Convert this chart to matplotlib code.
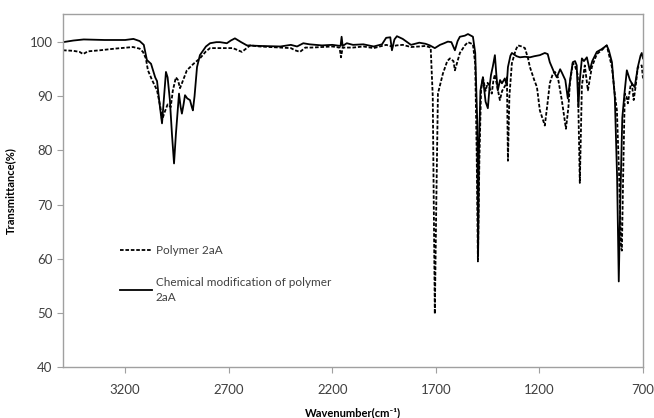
import numpy as np
import matplotlib
matplotlib.use("Agg")
from matplotlib import pyplot as plt

plt.rcParams['font.family'] = ['Lato', 'DejaVu Sans']

# Chemical modification of polymer 2aA (solid)
wn_mod = [3500, 3450, 3400, 3300, 3200, 3160, 3130, 3110, 3095, 3075, 3055, 3046, 3035, 3022, 3012,
          3003, 2995, 2984, 2974, 2964, 2955, 2940, 2932, 2926, 2918, 2911, 2900, 2887, 2878, 2873,
          2865, 2853, 2839, 2810, 2790, 2760, 2742, 2709, 2690, 2670, 2640, 2612, 2550, 2450, 2400,
          2370, 2340, 2310, 2250, 2200, 2160, 2155, 2150, 2130, 2100, 2050, 2000, 1960, 1940, 1920,
          1912, 1900, 1888, 1860, 1820, 1780, 1750, 1729, 1705, 1680, 1660, 1642, 1625, 1608, 1595,
          1584, 1560, 1545, 1530, 1521, 1510, 1500, 1496, 1492, 1485, 1473, 1460, 1449, 1440, 1434,
          1425, 1415, 1408, 1401, 1390, 1381, 1367, 1358, 1352, 1340, 1333, 1310, 1294, 1270, 1246,
          1225, 1198, 1174, 1160, 1150, 1130, 1116, 1100, 1092, 1075, 1063, 1050, 1039, 1028, 1020,
          1012, 1005, 995, 985, 971, 957, 945, 923, 900, 875, 865, 850, 836, 825, 817,
          810, 800, 788, 778, 763, 754, 740, 725, 712, 706, 700]
t_mod = [100.0, 100.3, 100.5, 100.4, 100.4, 100.6, 100.2, 99.5, 96.7, 96.0, 93.5, 92.8, 89.0, 85.0, 90.0,
         94.5, 93.5, 89.3, 83.0, 77.6, 83.0, 90.5, 88.0, 86.8, 88.5, 90.2, 89.6, 89.3, 88.0, 87.4,
         90.0, 95.4, 97.6, 99.2, 99.8, 100.0, 100.0, 99.8, 100.3, 100.7, 100.0, 99.4, 99.3, 99.2, 99.5,
         99.2, 99.8, 99.6, 99.4, 99.5, 99.3, 101.0, 99.3, 99.8, 99.5, 99.6, 99.2, 99.6, 100.8, 100.9,
         98.5, 100.5, 101.1, 100.6, 99.5, 99.9, 99.7, 99.4, 98.9, 99.5, 99.8, 100.1, 100.0, 98.5, 100.2,
         101.0, 101.2, 101.5, 101.2, 101.0, 98.0, 85.0, 60.5, 80.0, 91.0, 93.5, 89.0, 87.8, 92.0, 93.9,
         95.5, 97.6, 94.0, 91.1, 93.0, 92.4, 93.3, 92.0, 95.4, 97.5, 98.0, 97.4, 97.2, 97.3, 97.2,
         97.4, 97.6, 98.0, 97.8, 96.3, 94.5, 93.5, 95.0, 94.4, 93.0, 89.6, 93.5, 96.3, 96.5, 95.7,
         88.0, 93.0, 97.0, 96.5, 97.2, 94.8, 96.5, 98.2, 98.7, 99.4, 98.5, 96.3, 89.8, 75.0, 55.8,
         70.0, 86.0, 91.1, 94.8, 93.0, 92.4, 91.7, 95.4, 97.5, 98.0, 97.0]

# Polymer 2aA (dashed)
wn_poly = [3500, 3450, 3420, 3403, 3380, 3321, 3250, 3162, 3130, 3114, 3100, 3090, 3070, 3046, 3030,
           3022, 3010, 2995, 2980, 2970, 2955, 2945, 2935, 2920, 2902, 2870, 2839, 2810, 2790, 2740,
           2680, 2636, 2597, 2550, 2450, 2400, 2380, 2356, 2330, 2300, 2250, 2200, 2165, 2158, 2150,
           2100, 2050, 2000, 1960, 1940, 1912, 1890, 1860, 1820, 1780, 1750, 1725, 1715, 1705, 1698,
           1690, 1666, 1645, 1632, 1615, 1608, 1595, 1584, 1560, 1545, 1521, 1510, 1503, 1497, 1490,
           1482, 1473, 1460, 1450, 1430, 1422, 1415, 1400, 1391, 1380, 1365, 1357, 1352, 1345, 1333,
           1315, 1304, 1285, 1270, 1255, 1246, 1225, 1212, 1198, 1174, 1160, 1150, 1135, 1125, 1111,
           1092, 1072, 1060, 1053, 1039, 1030, 1015, 1005, 995, 981, 966, 947, 923, 900, 875,
           860, 850, 835, 826, 815, 806, 802, 796, 788, 780, 773, 760, 754, 745, 735,
           725, 706, 700]
t_poly = [98.5, 98.4, 98.2, 97.8, 98.3, 98.5, 98.8, 99.1, 98.8, 98.2, 97.0, 94.8, 93.0, 91.1, 88.0,
          85.6, 87.0, 88.5, 88.0, 91.0, 93.5, 93.0, 91.5, 93.0, 94.8, 96.0, 97.0, 98.3, 98.9, 98.9,
          98.9, 98.2, 99.4, 99.2, 99.0, 98.9, 98.5, 98.2, 99.0, 99.0, 99.1, 99.2, 99.0, 97.2, 99.0,
          99.0, 99.2, 98.9, 99.3, 99.5, 99.2, 99.4, 99.5, 99.1, 99.2, 99.3, 99.0, 90.0, 49.8, 70.0,
          90.5, 94.2, 96.5, 97.0, 96.5, 94.8, 96.5, 98.0, 99.4, 100.0, 99.6, 96.0, 80.0, 59.5, 78.0,
          91.0, 93.5, 91.0, 92.5, 90.5, 93.0, 94.0, 91.0, 89.3, 91.0, 92.0, 93.5, 78.1, 90.0, 96.1,
          98.5, 99.4, 99.2, 98.9, 97.0, 95.4, 93.0, 91.7, 87.4, 84.6, 89.0, 92.4, 94.2, 94.5, 93.5,
          89.3, 84.0, 88.0, 92.4, 96.1, 95.8, 94.0, 74.0, 92.0, 95.7, 91.1, 95.4, 97.8, 98.5, 99.4,
          97.0, 95.4, 90.0, 87.4, 75.0, 62.0, 61.5, 75.0, 90.5, 90.0, 88.7, 92.0, 92.4, 89.3, 92.0,
          95.4, 95.7, 93.3]

x_ticks = [3200, 2700, 2200, 1700, 1200, 700]
y_ticks = [40, 50, 60, 70, 80, 90, 100]

fig = plt.figure(figsize=(6.54, 4.18), dpi=100)
ax = fig.add_axes([63/654, 51/418, 580/654, 353/418])

ax.plot(wn_poly, t_poly, color='black', lw=1.3, ls=(0, (2, 1)), label='Polymer 2aA')
ax.plot(wn_mod, t_mod, color='black', lw=1.3, ls='-', label='Chemical modification of polymer\n2aA')

ax.set_xlim(3500, 700)
ax.set_ylim(40, 105.2)
ax.set_xticks(x_ticks)
ax.set_yticks(y_ticks)
ax.tick_params(direction='out', length=4, color='#a0a0a0', labelcolor='#404040', labelsize=9.5)
ax.tick_params(axis='x', pad=8)
for s in ax.spines.values():
    s.set_color('#a0a0a0')
    s.set_linewidth(1.0)

ax.set_xlabel('Wavenumber(cm⁻¹)', fontsize=8, fontweight='bold', labelpad=8)
ax.set_ylabel('Transmittance(%)', fontsize=8, fontweight='bold', labelpad=10)

leg = ax.legend(loc='upper left', bbox_to_anchor=(0.098, 0.345), frameon=False, fontsize=8.5,
                handlelength=2.7, handletextpad=0.35, labelspacing=1.8, borderpad=0, borderaxespad=0,
                labelcolor='#404040')
for t in leg.get_texts():
    t.set_linespacing(1.35)

fig.savefig('out.png', dpi=100)
